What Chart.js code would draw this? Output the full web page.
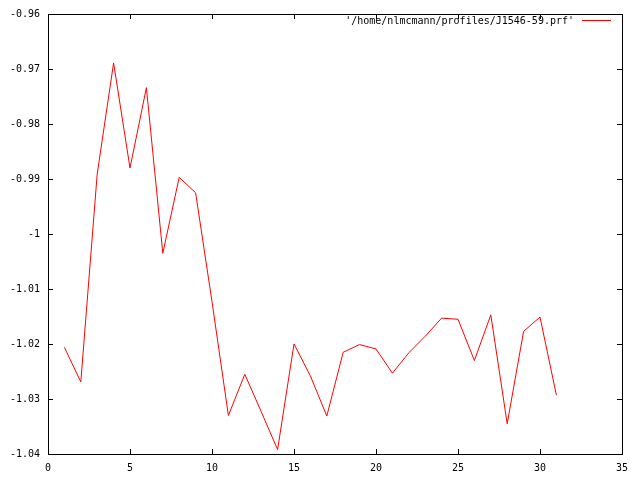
<!DOCTYPE html>
<html>
<head>
<meta charset="utf-8">
<script src="https://cdn.jsdelivr.net/npm/chart.js@4/dist/chart.umd.min.js"></script>
<style>
  body { margin: 0; background: #fff; }
  canvas { display: block; }
</style>
</head>
<body>
<canvas id="myChart" width="640" height="480"></canvas>
<script>
// profile values
const xValues = [1, 2, 3, 4, 5, 6, 7, 8, 9, 10, 11, 12, 13, 14, 15, 16,
                 17, 18, 19, 20, 21, 22, 23, 24, 25, 26, 27, 28, 29, 30, 31];
const yValues = [-1.0206, -1.0269, -0.9891, -0.9689, -0.9880, -0.9734, -1.0035, -0.9897,
                 -0.9925, -1.0123, -1.0330, -1.0255, -1.0323, -1.0392, -1.0200, -1.0258,
                 -1.0331, -1.0215, -1.0201, -1.0209, -1.0253, -1.0216, -1.0186, -1.0153,
                 -1.0155, -1.0230, -1.0147, -1.0345, -1.0177, -1.0151, -1.0293];
const xTicks = [0, 5, 10, 15, 20, 25, 30, 35];
const yTicks = [-1.04, -1.03, -1.02, -1.01, -1, -0.99, -0.98, -0.97, -0.96];
const seriesLabel = "'/home/nlmcmann/profiles/J1546-59.prf'";

const LINE_RED = '#ff0000';
const FONT = { family: 'DejaVu Sans Mono', size: 10 };

// gnuplot style frame, inward ticks on all sides, key inside top right
const gnuplotFrame = {
    id: 'gnuplotFrame',
    afterDraw(chart) {
        const ctx = chart.ctx;
        const a = chart.chartArea;
        const xs = chart.scales.x, ys = chart.scales.y;
        const t = 5;
        ctx.save();
        ctx.strokeStyle = '#000';
        ctx.lineWidth = 1;
        ctx.beginPath();
        xTicks.forEach(v => {
            const px = Math.round(xs.getPixelForValue(v)) + 0.5;
            ctx.moveTo(px, a.bottom); ctx.lineTo(px, a.bottom - t);
            ctx.moveTo(px, a.top); ctx.lineTo(px, a.top + t);
        });
        yTicks.forEach(v => {
            const py = Math.round(ys.getPixelForValue(v)) + 0.5;
            ctx.moveTo(a.left, py); ctx.lineTo(a.left + t, py);
            ctx.moveTo(a.right, py); ctx.lineTo(a.right - t, py);
        });
        ctx.stroke();
        ctx.strokeRect(Math.round(a.left) + 0.5, Math.round(a.top) + 0.5,
                       Math.round(a.right - a.left), Math.round(a.bottom - a.top));

        // key
        ctx.font = FONT.size + 'px ' + FONT.family;
        ctx.fillStyle = '#000';
        ctx.textAlign = 'right';
        ctx.textBaseline = 'middle';
        ctx.fillText(chart.data.datasets[0].label, 574, 21);
        ctx.beginPath();
        ctx.strokeStyle = LINE_RED;
        ctx.moveTo(582, 20.5);
        ctx.lineTo(611, 20.5);
        ctx.stroke();
        ctx.restore();
    }
};

new Chart(document.getElementById('myChart').getContext('2d'), {
    type: 'line',
    data: {
        datasets: [{
            label: seriesLabel,
            data: xValues.map((x, i) => ({ x: x, y: yValues[i] })),
            borderColor: LINE_RED,
            borderWidth: 1,
            pointRadius: 0,
            tension: 0,
            fill: false
        }]
    },
    options: {
        responsive: false,
        animation: false,
        layout: { padding: { top: 13, right: 18, left: 0, bottom: 0 } },
        plugins: {
            legend: { display: false },
            tooltip: { enabled: false }
        },
        scales: {
            x: {
                type: 'linear',
                min: 0,
                max: 35,
                afterBuildTicks: s => { s.ticks = xTicks.map(v => ({ value: v })); },
                afterFit: s => { s.height = 26; },
                grid: { display: false, drawTicks: false },
                border: { display: false },
                ticks: { color: '#000', font: FONT, padding: 8, maxRotation: 0 }
            },
            y: {
                type: 'linear',
                min: -1.04,
                max: -0.96,
                afterBuildTicks: s => { s.ticks = yTicks.map(v => ({ value: v })); },
                afterFit: s => { s.width = 48; },
                grid: { display: false, drawTicks: false },
                border: { display: false },
                ticks: {
                    color: '#000', font: FONT, padding: 8,
                    callback: v => String(parseFloat(v.toFixed(2)))
                }
            }
        }
    },
    plugins: [gnuplotFrame]
});
</script>
</body>
</html>
